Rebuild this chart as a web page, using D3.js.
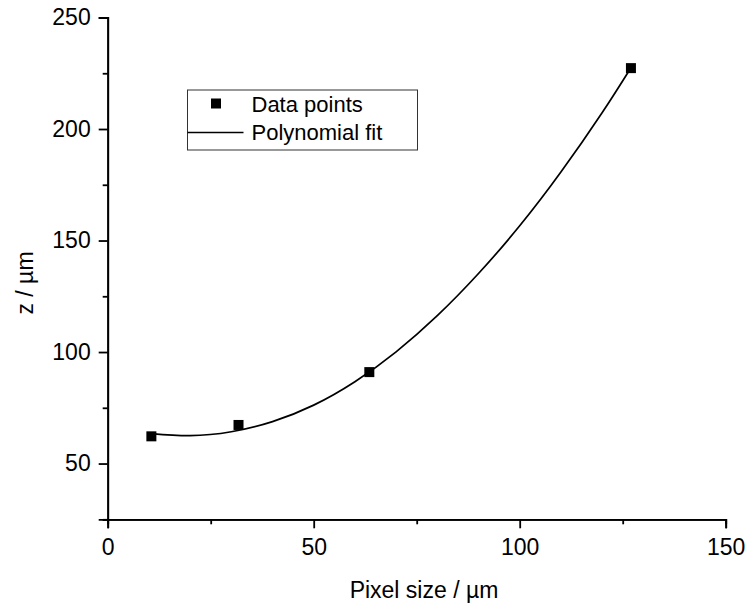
<!DOCTYPE html>
<html lang="en">
<head>
  <meta charset="UTF-8" />
  <title>z vs pixel size</title>
  <script src="https://d3js.org/d3.v7.min.js"></script>
  <style>
    html, body { margin: 0; padding: 0; background: #fff; }
    svg { display: block; font-family: "Liberation Sans", Arial, sans-serif; }
  </style>
</head>
<body>
  <svg width="749" height="608"></svg>
  <script>
    // ---------------------------------------------------------
    // Data
    // ---------------------------------------------------------
    const pixelSize = [10.6, 31.75, 63.5, 127];
    const zValues = [62.2, 67.3, 91.0, 227.3];

    // samples along the polynomial fit curve
    const fitX = [10.6, 20, 30, 40, 50, 60, 70, 80, 90, 100, 110, 120, 127];
    const fitY = [63.45, 62.5, 64.25, 68.8, 76.2, 86.7, 100.1, 116.3, 135.2, 156.6, 180.7, 207.3, 227.5];

    const xMajor = [0, 50, 100, 150];
    const xMinor = [25, 75, 125];
    const yMajor = [50, 100, 150, 200, 250];
    const yMinor = [25, 75, 125, 175, 225];

    const legendLabels = ["Data points", "Polynomial fit"];

    // ---------------------------------------------------------
    // Scales
    // ---------------------------------------------------------
    const svg = d3.select("svg");
    const x = d3.scaleLinear().domain([0, 150]).range([107.7, 725.7]);
    const y = d3.scaleLinear().domain([25, 250]).range([519.3, 17.5]);

    // ---------------------------------------------------------
    // Axes
    // ---------------------------------------------------------
    function styleAxis(g) {
      g.select(".domain").attr("stroke", "#000").attr("stroke-width", 1.8);
      g.selectAll(".tick line").attr("stroke", "#000").attr("stroke-width", 1.8);
      g.selectAll("text")
        .attr("fill", "#000")
        .attr("font-size", "23px")
        .attr("font-family", "'Liberation Sans', Arial, sans-serif");
    }

    svg.append("g")
      .attr("transform", `translate(0,${y(25)})`)
      .call(d3.axisBottom(x).tickValues(xMinor).tickSize(5).tickFormat(""))
      .call(styleAxis);
    svg.append("g")
      .attr("transform", `translate(0,${y(25)})`)
      .call(d3.axisBottom(x).tickValues(xMajor).tickSize(9).tickPadding(10).tickFormat(d3.format("d")))
      .call(styleAxis);

    svg.append("g")
      .attr("transform", `translate(${x(0)},0)`)
      .call(d3.axisLeft(y).tickValues(yMinor).tickSize(5).tickFormat(""))
      .call(styleAxis);
    svg.append("g")
      .attr("transform", `translate(${x(0)},0)`)
      .call(d3.axisLeft(y).tickValues(yMajor).tickSize(9).tickPadding(8).tickFormat(d3.format("d")))
      .call(styleAxis);

    // axis titles
    svg.append("text")
      .attr("x", 424)
      .attr("y", 598)
      .attr("text-anchor", "middle")
      .attr("font-size", "23px")
      .text("Pixel size / µm");

    svg.append("text")
      .attr("transform", "translate(33,283) rotate(-90)")
      .attr("text-anchor", "middle")
      .attr("font-size", "23px")
      .text("z / µm");

    // ---------------------------------------------------------
    // Fit curve and data points
    // ---------------------------------------------------------
    const fitData = fitX.map((d, i) => [d, fitY[i]]);
    const line = d3.line()
      .x(d => x(d[0]))
      .y(d => y(d[1]))
      .curve(d3.curveNatural);

    svg.append("path")
      .datum(fitData)
      .attr("fill", "none")
      .attr("stroke", "#000")
      .attr("stroke-width", 1.7)
      .attr("d", line);

    const pts = pixelSize.map((d, i) => [d, zValues[i]]);
    svg.selectAll("rect.pt")
      .data(pts)
      .join("rect")
      .attr("class", "pt")
      .attr("x", d => x(d[0]) - 5)
      .attr("y", d => y(d[1]) - 5)
      .attr("width", 10)
      .attr("height", 10)
      .attr("fill", "#000");

    // ---------------------------------------------------------
    // Legend
    // ---------------------------------------------------------
    const legend = svg.append("g");
    legend.append("rect")
      .attr("x", 187.5)
      .attr("y", 90)
      .attr("width", 230)
      .attr("height", 60)
      .attr("fill", "#fff")
      .attr("stroke", "#333")
      .attr("stroke-width", 1);

    legend.append("rect")
      .attr("x", 211)
      .attr("y", 98.5)
      .attr("width", 10)
      .attr("height", 10)
      .attr("fill", "#000");

    legend.append("line")
      .attr("x1", 187.5)
      .attr("x2", 243.5)
      .attr("y1", 132.5)
      .attr("y2", 132.5)
      .attr("stroke", "#000")
      .attr("stroke-width", 1.7);

    legend.selectAll("text")
      .data(legendLabels)
      .join("text")
      .attr("x", 251.5)
      .attr("y", (d, i) => 112 + i * 28)
      .attr("font-size", "22px")
      .text(d => d);
  </script>
</body>
</html>
